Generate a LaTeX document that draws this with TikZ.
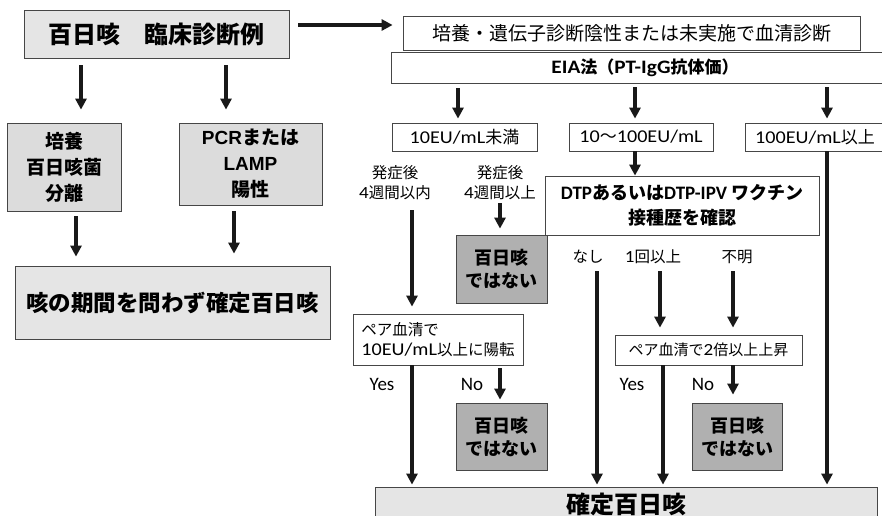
\documentclass[tikz,border=0pt]{standalone}
\usepackage{fontspec}
\setmainfont{Noto Sans CJK JP}
\newfontfamily\latw[FakeStretch=1.12]{Carlito}
\newfontfamily\lat{Carlito}
\newfontfamily\ari{Liberation Sans}
\usetikzlibrary{arrows.meta}
\definecolor{bordc}{RGB}{70,70,70}
\definecolor{lfill}{RGB}{229,229,229}
\definecolor{mfill}{RGB}{220,220,220}
\definecolor{dfill}{RGB}{176,176,176}
\newcommand\fs[2]{\fontsize{#1}{#2}\selectfont}
\newcommand\mkbox[7]{\node[#6, minimum width={#4-#2}, minimum height={#5-#3}] (#1) at ({(#2+#4)/2},{(#3+#5)/2}) {#7};}
\begin{document}
\begin{tikzpicture}[x=1pt,y=-1pt,
  box/.style={draw=bordc, line width=0.8pt, inner sep=0pt, align=center, fill=white},
  gbox/.style={box, fill=lfill},
  lgbox/.style={box, fill=mfill, font=\fs{19}{26}\bfseries},
  nbox/.style={box, fill=dfill, font=\fs{18}{23}\bfseries},
  arr/.style={line width=3.2pt, draw=black!90, -{Triangle[length=11pt,width=11pt]}},
  lbl/.style={inner sep=0pt, align=center, font=\fs{15.5}{19.5}},
  yn/.style={inner sep=0pt, font=\lat\fs{19}{20}}]
\useasboundingbox[fill=white] (0,0) rectangle (882,515);
% boxes
\mkbox{title}{24}{10}{289}{58}{gbox, font=\fs{24}{28}\bfseries}{百日咳　臨床診断例}
\mkbox{serum}{403}{16}{860}{50}{box, font=\fs{19}{22}}{培養・遺伝子診断陰性または未実施で血清診断}
\mkbox{eia}{391}{52}{899}{83}{box, font=\fs{17}{20}\bfseries}{{\latw\fs{19}{20}EIA}法（{\latw\fs{19}{20}PT-IgG}抗体価）}
\mkbox{r1}{392}{123}{537}{151}{box, font=\fs{17}{20}}{{\latw\fs{18}{20}10EU/mL}未満}
\mkbox{r2}{569}{123}{713}{151}{box, font=\fs{17}{20}}{{\latw\fs{18}{20}10}〜{\latw\fs{18}{20}100EU/mL}}
\mkbox{r3}{745}{123}{885}{151}{box, font=\fs{17}{20}}{{\latw\fs{18}{20}100EU/mL}以上}
\mkbox{lb1}{7}{123}{121}{211}{lgbox}{培養\\百日咳菌\\分離}
\mkbox{lb2}{179}{123}{322}{205}{lgbox}{{\ari PCR}または\\{\ari LAMP}\\陽性}
\mkbox{bigl}{15}{266}{330}{339}{gbox, font=\fs{22.5}{26}\bfseries}{咳の期間を問わず確定百日咳}
\mkbox{dtp}{545}{176}{819}{235}{box, font=\fs{18}{25}\bfseries}{{\lat\fs{19}{20}DTP}あるいは{\lat\fs{19}{20}DTP-IPV} ワクチン\\接種歴を確認}
\mkbox{np1}{456}{235}{547}{303}{nbox}{百日咳\\ではない}
\mkbox{p1}{353}{314}{523}{365}{box, align=left, font=\fs{15.5}{20}}{ペア血清で\\{\latw\fs{18}{20}10EU/mL}以上に陽転}
\mkbox{p2}{615}{335}{802}{365}{box, font=\fs{15}{18}}{ペア血清で{\latw\fs{17}{18}2}倍以上上昇}
\mkbox{np2}{456}{403}{547}{470}{nbox}{百日咳\\ではない}
\mkbox{np3}{692}{403}{782}{470}{nbox}{百日咳\\ではない}
\mkbox{final}{375}{487}{877}{521}{gbox, font=\fs{24}{28}\bfseries}{確定百日咳}
% labels
\node[lbl] (l1) at (395,182.5) {発症後\\{\latw\fs{17}{19}4}週間以内};
\node[lbl] (l2) at (500,182.5) {発症後\\{\latw\fs{17}{19}4}週間以上};
\node[lbl] (l3) at (588,257) {なし};
\node[lbl] (l4) at (653,257) {{\latw\fs{17}{19}1}回以上};
\node[lbl] (l5) at (737,257) {不明};
\node[yn] (y1) at (382,384) {Yes};
\node[yn] (n1) at (472,384) {No};
\node[yn] (y2) at (632,384) {Yes};
\node[yn] (n2) at (703,384) {No};
% column coordinates
\coordinate (cy) at (0,25);
\coordinate (k81) at (81,0);
\coordinate (k226) at (226,0);
\coordinate (k76) at (76,0);
\coordinate (k234) at (234,0);
\coordinate (k458) at (458,0);
\coordinate (k635) at (635,0);
\coordinate (k827) at (827,0);
\coordinate (k663) at (663,0);
\coordinate (s1) at (412,210);
\coordinate (s2) at (500,203);
\coordinate (s3) at (597,271);
\coordinate (s4) at (660,271);
\coordinate (s5) at (733,271);
% connectors
\draw[arr, shorten <=9pt, shorten >=10pt] (title.east |- cy) -- (serum.west |- cy);
\draw[arr, shorten <=7pt, shorten >=13pt] (title.south -| k81) -- (lb1.north -| k81);
\draw[arr, shorten <=7pt, shorten >=13pt] (title.south -| k226) -- (lb2.north -| k226);
\draw[arr, shorten <=5pt, shorten >=9pt] (lb1.south -| k76) -- (bigl.north -| k76);
\draw[arr, shorten <=6pt, shorten >=12pt] (lb2.south -| k234) -- (bigl.north -| k234);
\draw[arr, shorten <=5pt, shorten >=4pt] (eia.south -| k458) -- (r1.north -| k458);
\draw[arr, shorten <=4pt, shorten >=4pt] (eia.south -| k635) -- (r2.north -| k635);
\draw[arr, shorten <=4pt, shorten >=4pt] (eia.south -| k827) -- (r3.north -| k827);
\draw[arr] (r2.south -| k635) -- (dtp.north -| k635);
\draw[arr, shorten >=7pt] (s1) -- (p1.north -| s1);
\draw[arr, shorten >=6pt] (s2) -- (np1.north -| s2);
\draw[arr, shorten >=2pt] (s3) -- (final.north -| s3);
\draw[arr, shorten >=7pt] (s4) -- (p2.north -| s4);
\draw[arr, shorten >=7pt] (s5) -- (p2.north -| s5);
\draw[arr, shorten >=2pt] (r3.south -| k827) -- (final.north -| k827);
\draw[arr, shorten >=2pt] (p1.south -| s1) -- (final.north -| s1);
\draw[arr, shorten <=3pt, shorten >=3pt] (p1.south -| s2) -- (np2.north -| s2);
\draw[arr, shorten >=2pt] (p2.south -| k663) -- (final.north -| k663);
\draw[arr, shorten >=8pt] (p2.south -| s5) -- (np3.north -| s5);
\end{tikzpicture}
\end{document}
